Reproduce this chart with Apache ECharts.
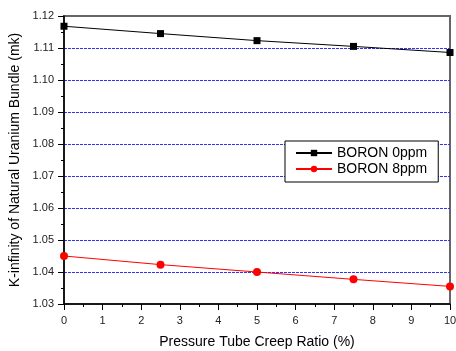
<!DOCTYPE html>
<html>
<head>
<meta charset="utf-8">
<script src="https://cdn.jsdelivr.net/npm/echarts@6/dist/echarts.min.js"></script>
<style>
html, body { margin: 0; padding: 0; background: #fff; }
#container { width: 456px; height: 351px; }
</style>
</head>
<body>
<div id="container"></div>
<script>
// 数据
var creepRatio = [0, 2.5, 5, 7.5, 10];
var boron0 = [1.1168, 1.1145, 1.1123, 1.1105, 1.1086];
var boron8 = [1.0450, 1.0423, 1.0400, 1.0377, 1.0355];
var seriesNames = ['BORON 0ppm', 'BORON 8ppm'];

function pairs(xs, ys) {
    var arr = [];
    for (var i = 0; i < xs.length; i++) {
        arr.push([xs[i], ys[i]]);
    }
    return arr;
}

var font = 'Liberation Sans, Arial, sans-serif';
var container = echarts.init(document.getElementById('container'));

var option = {
    animation: false,
    backgroundColor: '#fff',
    grid: {
        left: 64,
        right: 6,
        top: 16,
        bottom: 47,
        outerBoundsMode: 'none',
        show: true,
        borderColor: '#666',
        borderWidth: 2,
        backgroundColor: 'transparent'
    },
    legend: {
        orient: 'vertical',
        left: 285,
        top: 141,
        padding: [5, 11, 6, 10],
        itemGap: 2,
        itemWidth: 36,
        itemHeight: 8,
        borderColor: '#000',
        borderWidth: 1,
        backgroundColor: '#fff',
        textStyle: { fontFamily: font, fontSize: 14, color: '#000' },
        data: seriesNames
    },
    xAxis: {
        type: 'value',
        min: 0,
        max: 10,
        interval: 1,
        name: 'Pressure Tube Creep Ratio (%)',
        nameLocation: 'middle',
        nameGap: 31,
        nameTextStyle: { fontFamily: font, fontSize: 14, color: '#000' },
        axisLine: { lineStyle: { color: '#000', width: 1.5 } },
        axisTick: { inside: false, length: 6, lineStyle: { color: '#000' } },
        minorTick: { show: true, splitNumber: 2, length: 3, lineStyle: { color: '#000' } },
        axisLabel: { fontFamily: font, fontSize: 11, color: '#222', margin: 11 },
        splitLine: { show: false }
    },
    yAxis: {
        type: 'value',
        min: 1.03,
        max: 1.12,
        interval: 0.01,
        name: 'K-infinity of Natural Uranium Bundle (mk)',
        nameLocation: 'middle',
        nameGap: 38,
        nameTextStyle: { fontFamily: font, fontSize: 14, color: '#000' },
        axisLine: { lineStyle: { color: '#000', width: 1.5 } },
        axisTick: { inside: false, length: 6, lineStyle: { color: '#000' } },
        minorTick: { show: true, splitNumber: 2, length: 3, lineStyle: { color: '#000' } },
        axisLabel: {
            fontFamily: font, fontSize: 11, color: '#222', margin: 10,
            formatter: function (v) { return v.toFixed(2); }
        },
        splitLine: {
            show: true,
            showMinLine: false,
            showMaxLine: false,
            lineStyle: { color: '#3030ff', width: 1.2, type: [3, 1] }
        }
    },
    series: [
        {
            name: seriesNames[0],
            type: 'line',
            data: pairs(creepRatio, boron0),
            symbol: 'rect',
            symbolSize: 7,
            clip: false,
            itemStyle: { color: '#000' },
            lineStyle: { color: '#000', width: 1 }
        },
        {
            name: seriesNames[1],
            type: 'line',
            data: pairs(creepRatio, boron8),
            symbol: 'circle',
            symbolSize: 8,
            clip: false,
            itemStyle: { color: '#ff0000' },
            lineStyle: { color: '#ff0000', width: 1 }
        }
    ]
};
container.setOption(option, true);
</script>
</body>
</html>
